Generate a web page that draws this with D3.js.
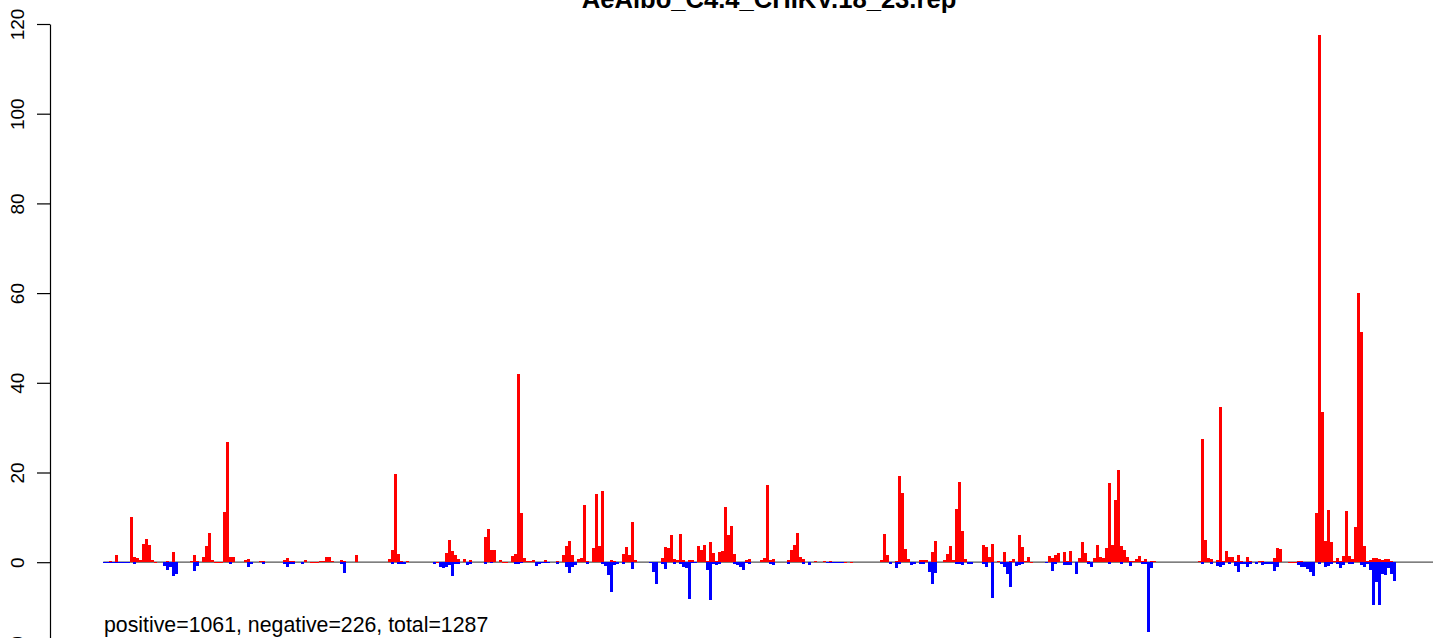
<!DOCTYPE html>
<html>
<head>
<meta charset="utf-8">
<script src="https://cdn.jsdelivr.net/npm/d3@7"></script>
<style>
  body { margin: 0; background: #fff; }
  svg { display: block; font-family: "Liberation Sans", Arial, Helvetica, sans-serif; }
</style>
</head>
<body>
<div id="chart"></div>
<script>
// chart text
const title = "AeAlbo_C4.4_CHIKV.18_23.rep";
const summary = "positive=1061, negative=226, total=1287";
const yTicks = [-20, 0, 20, 40, 60, 80, 100, 120];
const nBins = 444;

// [bin index, value] pairs, bins not listed are zero
const posBins = [
  [2,0.35],[4,1.6],[5,0.1],[6,0.1],[7,0.1],[9,10.1],[10,1.16],[11,0.94],[12,0.56],[13,4.05],[14,5.17],[15,3.83],[16,0.5],[17,0.15],
  [21,0.3],[23,2.27],[29,0.2],[30,1.6],[31,0.3],[33,1.16],[34,3.6],[35,6.5],[36,0.56],[37,0.15],[38,0.1],[39,0.1],[40,11.17],[41,26.9],[42,1.16],[43,1.16],
  [47,0.5],[48,0.7],[52,0.27],[53,0.27],[60,0.5],[61,0.94],[62,0.27],[63,0.27],[67,0.5],[69,0.1],[70,0.1],[71,0.1],[72,0.2],[73,0.2],[74,1.16],[75,1.16],[76,0.27],[79,0.5],[80,0.27],[84,1.6],
  [95,0.64],[96,2.7],[97,19.66],[98,1.83],[99,0.35],[101,0.27],[111,0.1],[114,2.0],[115,4.95],[116,2.6],[117,1.7],[118,0.7],[120,0.7],[122,0.5],
  [127,5.6],[128,7.4],[129,2.7],[130,2.7],[132,0.5],[133,0.15],[134,0.15],[136,1.4],[137,1.83],[138,42.0],[139,10.97],[140,0.94],[141,0.27],[142,0.27],[143,0.5],[147,0.5],[151,0.27],
  [153,1.6],[154,3.6],[155,4.7],[156,1.5],[158,0.79],[159,0.94],[160,12.75],[161,0.3],[163,3.25],[164,15.2],[165,3.6],[166,15.9],[167,0.15],[169,0.5],[170,0.35],
  [173,1.83],[174,3.4],[175,1.6],[176,8.9],[177,0.5],
  [186,0.94],[187,3.4],[188,3.2],[189,6.06],[190,0.74],[191,0.5],[192,6.3],[193,0.5],[195,0.5],[196,0.5],
  [198,3.7],[199,2.7],[200,3.9],[201,0.27],[202,4.5],[203,2.05],[204,0.2],[205,2.27],[206,2.5],[207,12.3],[208,6.06],[209,8.07],[210,1.83],[214,0.5],[215,0.7],
  [219,0.5],[220,0.94],[221,17.2],[222,0.5],[223,0.7],[228,0.5],[229,2.7],[230,3.8],[231,6.5],[232,1.16],[233,0.7],[237,0.27],[240,0.27],[242,0.27],[247,0.1],[249,0.1],
  [259,0.5],[260,6.27],[261,1.6],[264,0.27],[265,19.2],[266,15.4],[267,2.9],[268,0.7],[272,0.5],[273,0.5],[274,0.5],[276,2.3],[277,4.7],
  [280,0.5],[281,1.83],[282,3.6],[283,0.5],[284,11.85],[285,17.9],[286,6.95],[287,0.7],
  [293,3.83],[294,3.4],[295,1.16],[296,4.05],[298,0.35],[300,2.27],[302,0.35],[303,0.7],[305,6.06],[306,3.4],[307,0.27],[308,1.16],[309,0.15],
  [315,1.4],[316,0.94],[317,1.6],[318,2.05],[320,2.27],[321,0.27],[322,2.5],[325,0.94],[326,4.5],[327,2.05],[328,0.27],[330,0.94],[331,3.83],[332,1.16],[333,0.94],
  [334,3.2],[335,17.66],[336,3.83],[337,13.9],[338,20.5],[339,3.6],[340,2.7],[341,1.16],[342,0.27],[343,0.27],[344,0.7],[345,1.4],[346,0.27],[347,0.7],[349,0.27],[350,0.27],
  [365,0.27],[366,27.5],[367,4.95],[368,0.94],[369,0.7],[371,0.5],[372,34.6],[373,0.27],[374,2.5],[375,1.16],[376,1.16],[377,0.27],[378,1.6],[379,0.27],[381,1.16],[382,0.27],
  [385,0.27],[386,0.27],[390,0.94],[391,3.2],[392,2.9],[395,0.15],[396,0.15],[397,0.15],[398,0.27],[399,0.27],
  [404,10.95],[405,117.5],[406,33.5],[407,4.7],[408,11.6],[409,4.6],[410,0.27],[411,0.94],[412,0.27],[413,1.4],[414,11.4],[415,1.4],[416,0.7],[417,7.8],[418,60],[419,51.3],
  [420,3.6],[421,0.27],[422,0.5],[423,0.94],[424,0.94],[425,0.7],[426,0.5],[427,0.7],[428,0.7],[429,0.27],[430,0.15]
];

const negBins = [
  [0,-0.15],[1,-0.15],[2,-0.15],[3,-0.15],[4,-0.15],[5,-0.15],[6,-0.15],[7,-0.15],[8,-0.15],[10,-0.4],
  [20,-0.8],[21,-1.66],[22,-1.1],[23,-3.0],[24,-2.55],[30,-1.9],[31,-0.85],[42,-0.4],[48,-1.0],[49,-0.4],[53,-0.4],[60,-0.4],[61,-1.0],[62,-0.3],[63,-0.3],[66,-0.4],[79,-0.4],[80,-2.3],
  [96,-0.4],[98,-0.3],[99,-0.3],[100,-0.3],[110,-0.4],[112,-1.07],[113,-1.2],[114,-1.0],[115,-0.6],[116,-3.0],[117,-0.4],[118,-0.4],[121,-0.6],[122,-0.4],[127,-0.4],[129,-0.2],
  [137,-0.4],[138,-0.4],[139,-0.2],[144,-0.8],[145,-0.45],[146,-0.15],[147,-0.15],[148,-0.15],[151,-0.4],[154,-1.0],[155,-2.33],[156,-1.0],[157,-0.6],[161,-0.4],
  [166,-0.4],[167,-0.85],[168,-2.8],[169,-6.6],[170,-0.7],[171,-0.4],[173,-0.4],[176,-1.44],[182,-0.2],[183,-2.2],[184,-4.8],
  [186,-0.5],[187,-1.5],[190,-0.5],[192,-0.4],[193,-1.0],[194,-1.2],[195,-8.2],[196,-0.2],[197,-0.2],
  [201,-1.8],[202,-8.4],[203,-0.5],[204,-0.6],[205,-0.4],[210,-0.4],[211,-0.65],[212,-1.1],[213,-1.7],[214,-0.2],[215,-0.4],
  [222,-0.3],[223,-0.6],[228,-0.45],[233,-0.45],[235,-0.65],[241,-0.15],[242,-0.15],[243,-0.15],[244,-0.15],[245,-0.15],[246,-0.15],
  [262,-0.4],[264,-1.3],[265,-0.4],[269,-0.6],[270,-0.3],[272,-0.4],[273,-0.4],[275,-2.2],[276,-4.8],[277,-2.3],
  [284,-0.3],[285,-0.3],[286,-0.55],[288,-0.3],[289,-0.3],[293,-0.3],[294,-1.0],[296,-7.9],[299,-0.4],[300,-1.0],[301,-2.55],[302,-5.46],[304,-0.8],[305,-0.55],[306,-0.4],
  [314,-0.2],[316,-1.9],[317,-0.4],[320,-0.55],[321,-0.55],[322,-0.55],[324,-2.55],[328,-0.4],[329,-1.0],[335,-0.4],[339,-0.4],[342,-0.85],[346,-0.3],[347,-0.3],[348,-15.6],[349,-1.2],
  [366,-0.4],[369,-0.4],[371,-0.8],[372,-1.0],[373,-0.6],[375,-0.4],[377,-0.8],[378,-2.1],[379,-0.4],[380,-0.4],[381,-1.0],[382,-0.4],[384,-0.4],[386,-0.55],[387,-0.3],[388,-0.3],[389,-0.3],[390,-1.9],[391,-1.07],
  [398,-0.6],[399,-1.07],[400,-1.0],[401,-1.44],[402,-2.1],[403,-3.0],[405,-0.4],[407,-1.0],[408,-0.8],[409,-0.3],[411,-0.4],[412,-1.3],[413,-0.6],[415,-0.4],[416,-0.4],
  [419,-0.6],[420,-1.0],[421,-0.4],[422,-1.66],[423,-9.5],[424,-4.4],[425,-9.5],[426,-2.55],[427,-2.8],[428,-1.2],[429,-2.55],[430,-4.1]
];

const width = 1433, height = 638;
const axisX = 50;

const svg = d3.select("#chart").append("svg")
    .attr("width", width)
    .attr("height", height);

// scales
const x = d3.scaleBand()
    .domain(d3.range(nBins))
    .range([103.3, 1434.8])
    .padding(0);

const y = d3.scaleLinear()
    .domain([-20, 120])
    .range([651.9, 24]);

// zero line
svg.append("line")
    .attr("x1", x(0))
    .attr("x2", x(nBins - 1) + x.bandwidth())
    .attr("y1", y(0))
    .attr("y2", y(0))
    .attr("stroke", "#555")
    .attr("stroke-width", 1.2);

// bars
svg.append("g").selectAll("rect")
    .data(posBins)
    .join("rect")
    .attr("x", d => x(d[0]))
    .attr("width", x.bandwidth())
    .attr("y", d => y(d[1]))
    .attr("height", d => Math.max(1, y(0) - y(d[1])))
    .attr("fill", "#ff0000")
    .attr("shape-rendering", "crispEdges");

svg.append("g").selectAll("rect")
    .data(negBins)
    .join("rect")
    .attr("x", d => x(d[0]))
    .attr("width", x.bandwidth())
    .attr("y", y(0))
    .attr("height", d => Math.max(1, y(d[1]) - y(0)))
    .attr("fill", "#0000ff")
    .attr("shape-rendering", "crispEdges");

// y axis
const yAxis = svg.append("g")
    .attr("transform", `translate(${axisX},0)`)
    .call(d3.axisLeft(y).tickValues(yTicks).tickSize(13).tickSizeOuter(0).tickFormat(d3.format("d")));

yAxis.select(".domain").attr("stroke", "#000").attr("stroke-width", 1.2);
yAxis.selectAll(".tick line").attr("stroke", "#000").attr("stroke-width", 1.2);
yAxis.selectAll(".tick text")
    .attr("x", 0)
    .attr("y", -26.5)
    .attr("dy", 0)
    .attr("transform", "rotate(-90)")
    .style("text-anchor", "middle")
    .style("font-size", "19px")
    .style("font-family", "'Liberation Sans', Arial, sans-serif")
    .attr("fill", "#000");

// title
svg.append("text")
    .attr("x", 769)
    .attr("y", 8)
    .attr("text-anchor", "middle")
    .style("font-size", "25.6px")
    .style("font-weight", "bold")
    .text(title);

// summary note
svg.append("text")
    .attr("x", 104)
    .attr("y", 632)
    .style("font-size", "21.3px")
    .text(summary);
</script>
</body>
</html>
